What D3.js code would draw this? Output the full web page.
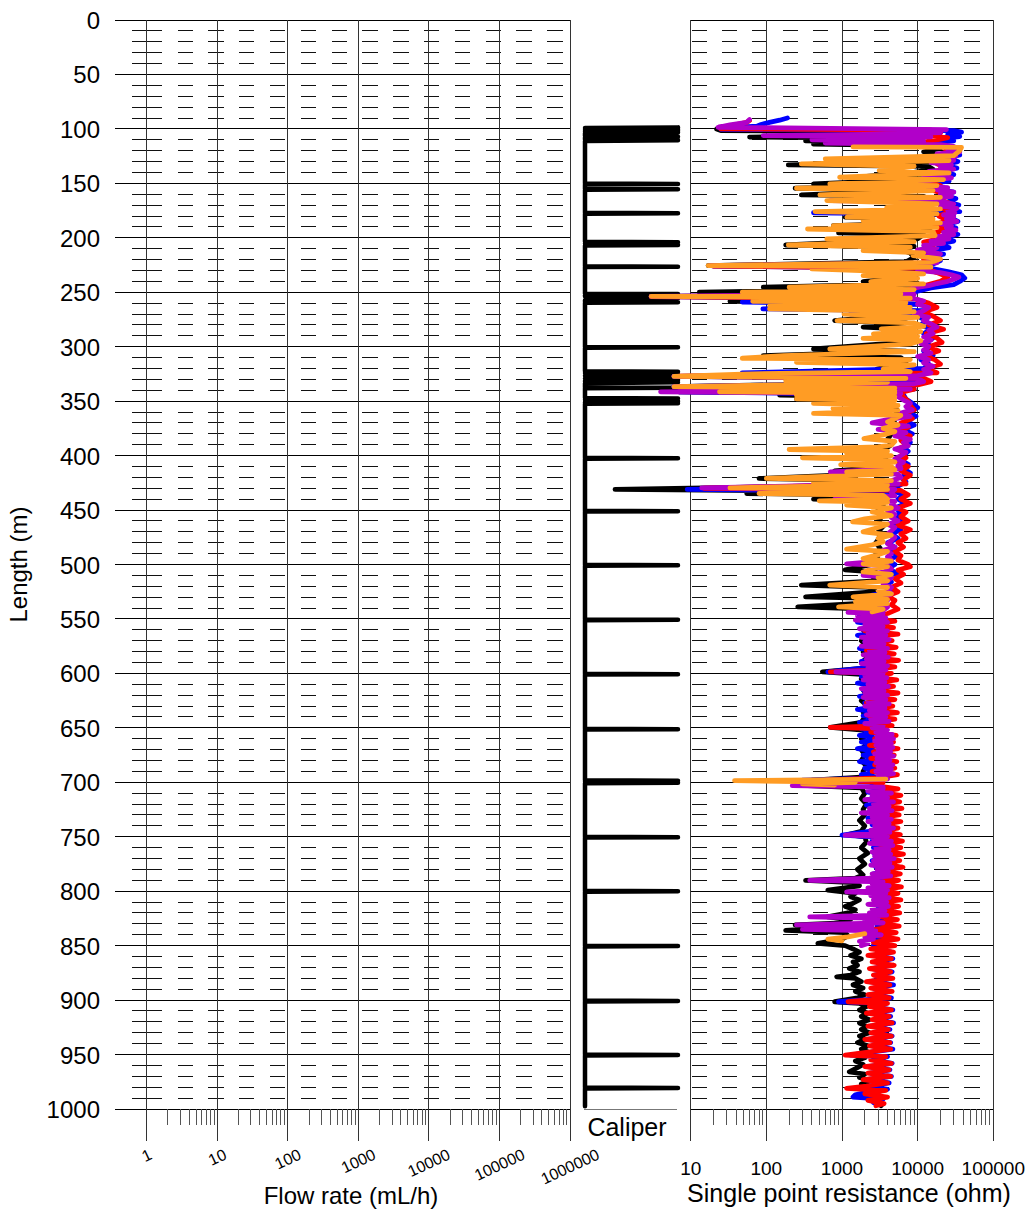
<!DOCTYPE html>
<html>
<head>
<meta charset="utf-8">
<script src="https://cdn.jsdelivr.net/npm/d3@7"></script>
<style>
body { margin: 0; background: #fff; }
svg { font-family: "Liberation Sans", Arial, sans-serif; }
</style>
</head>
<body>
<svg id="chart" width="1033" height="1224"></svg>
<script>
'use strict';

// tick labels
let depthTicks = [0, 50, 100, 150, 200, 250, 300, 350, 400, 450, 500, 550, 600, 650, 700, 750, 800, 850, 900, 950, 1000];
let flowTicks = [1, 10, 100, 1000, 10000, 100000, 1000000];
let resTicks = [10, 100, 1000, 10000, 100000];

// caliper trace [depth m, diameter mm]
let caliper = [
    [98.6, 86], [99.2, 76], [100.2, 86], [101, 76], [101.8, 86], [102.6, 76], [103.4, 86], [104, 76],
    [106.6, 76], [107.3, 86], [108, 76], [109.8, 76], [110.5, 86], [111.2, 76],
    [150.2, 76], [150.6, 86], [151, 76], [155.1, 76], [155.5, 86], [155.9, 76],
    [177.1, 76], [177.5, 86], [177.9, 76], [203.6, 76], [204, 86], [205.2, 76], [206.5, 86], [207, 76],
    [226.1, 76], [226.5, 86], [226.9, 76],
    [251.3, 76], [251.7, 86], [252.6, 76], [253.6, 76], [255.4, 86], [256.6, 79.3], [257.4, 76], [258.6, 76], [259.2, 86], [259.6, 76],
    [300.2, 76], [300.6, 86], [301, 76],
    [322.6, 76], [323, 86], [324.2, 76], [325.5, 86], [326.7, 76], [328, 86], [329.2, 76], [330.5, 86],
    [331.6, 76], [332.7, 86], [333.6, 76], [337.4, 76], [337.8, 86], [338.2, 76],
    [347.2, 76], [347.6, 86], [348.8, 76], [350, 86], [351.1, 76], [352, 86], [352.5, 76],
    [402, 76], [402.4, 86], [402.8, 76], [450.6, 76], [451, 86], [451.4, 76],
    [500.3, 76], [500.7, 86], [501.1, 76], [550.4, 76], [550.8, 86], [551.2, 76],
    [600.3, 76], [600.7, 86], [601.1, 76], [650.8, 76], [651.2, 86], [651.6, 76],
    [698.2, 76], [698.6, 86], [699.5, 76], [700.4, 86], [700.8, 76],
    [750, 76], [750.4, 86], [750.8, 76], [799.6, 76], [800, 86], [800.4, 76],
    [850, 76], [850.4, 86], [850.8, 76], [900.4, 76], [900.8, 86], [901.2, 76],
    [950, 76], [950.4, 86], [950.8, 76], [980.3, 76], [980.7, 86], [981.1, 76], [997.5, 76]
];

// single point resistance runs [depth m, ohm]
let blackRes = [
    [100, 22], [101.5, 25], [102.5, 12000], [105, 8000], [107.5, 60], [109, 10000], [111, 330], [112.5, 9000],
    [114, 420], [115.5, 15000], [118, 20000], [121, 12000], [124, 18000], [127, 10000], [129, 1500], [130, 15000],
    [133.1, 195], [134.5, 14000], [137, 16000], [140, 9000], [144.4, 1600], [146, 14000], [150.5, 420], [152, 12000],
    [154.5, 240], [156, 13000], [160.6, 290], [162, 12000], [166, 15000], [170, 10000], [174, 14000], [177, 12000],
    [181.1, 1100], [183, 13000], [186, 12000], [188.8, 770], [190.5, 15000], [194, 11000], [195.5, 900], [197, 12000],
    [201, 10000], [206.6, 180], [208, 9000], [211, 6000], [214, 8000], [218, 9000], [222, 7000], [225.5, 17],
    [227, 8000], [231, 6000], [235, 9000], [240.2, 1900], [242, 10000], [245.4, 91], [247, 8000], [250, 13],
    [251.5, 6000], [253.7, 3], [255.5, 7000], [258.3, 33], [260, 6000], [263, 7500], [267, 7000], [271, 5000],
    [276, 800], [278, 7000], [282, 1900], [284, 8000], [288, 7500], [292, 8000], [296, 6500], [302.1, 420],
    [304, 7000], [308.2, 91], [310, 6000], [314, 7000], [320.5, 2900], [322, 6500], [326, 6000], [327.2, 6],
    [329, 6000], [333, 5000], [336.7, 6], [338, 4000], [341.4, 7], [343, 4500], [344.5, 150], [346, 4000],
    [348, 250], [350, 4500], [355, 5000], [360, 5500], [365, 4500], [370, 5000], [375, 4000], [380, 4500],
    [385, 4000], [390, 4500], [395, 3500], [400, 4000], [405, 3500], [410, 4000], [414, 800], [416, 3500],
    [421, 80], [423, 3500], [427, 3000], [431, 1], [433, 3000], [434.8, 55], [436.5, 3000], [440, 420],
    [442, 3000], [446, 3500], [450, 3000], [455, 3500], [460, 3000], [465, 3500], [470, 3000], [475, 3200],
    [480, 2800], [485, 3200], [490, 2800], [495, 3000], [500, 2500], [505, 1100], [507, 2800], [510, 2500],
    [515, 2800], [519, 290], [521, 2500], [525, 2800], [529.7, 330], [531, 2700], [535, 2500], [538.9, 260],
    [541, 2400], [545, 2200], [550, 2000], [555, 2300], [560, 1900], [565, 2200], [570, 1800], [575, 2100],
    [580, 1900], [585, 2200], [590, 1800], [595, 2100], [598.6, 550], [601, 2000], [605, 1800], [610, 2200],
    [615, 1900], [620, 2100], [625, 1800], [630, 2200], [635, 1900], [640, 2000], [645, 1800], [649.5, 700],
    [652, 1900], [656, 2200], [660, 1800], [665, 2100], [670, 1800], [675, 2000], [680, 1800], [685, 2100],
    [690, 1900], [695, 2000], [698, 400], [700, 1000], [703, 350], [705, 1800], [710, 2000], [715, 1800],
    [720, 2100], [725, 1900], [730, 2000], [735, 1700], [740, 2000], [745, 1800], [748, 1200], [750, 2000],
    [755, 2100], [760, 1800], [765, 2200], [770, 1700], [775, 2000], [780, 1600], [785, 1900], [788, 1500],
    [790, 330], [792, 1400], [795, 1700], [799, 650], [802, 1500], [805, 1300], [808, 1700], [811, 1400],
    [814, 1100], [817, 1500], [820, 1200], [823.6, 640], [826, 1300], [829, 1000], [831, 240], [833, 900],
    [836, 180], [838, 1100], [841, 1200], [844, 1000], [848, 480], [850, 1100], [853, 1400], [856, 1700],
    [859, 1300], [862, 1800], [865, 1400], [868, 1600], [871, 1250], [874, 1700], [877, 1300], [878.6, 850],
    [880, 1500], [883, 1800], [886, 1400], [889, 1900], [892, 1500], [895, 2000], [898, 1600], [901.5, 800],
    [903, 1700], [906, 2100], [909, 1700], [912, 2200], [915, 1800], [918, 2300], [921, 1700], [924, 2100],
    [927, 1800], [930, 2300], [933, 1700], [936, 2000], [939, 1600], [942, 2200], [945, 1800], [948, 2300],
    [950.5, 1600], [953, 2000], [956, 1500], [959, 1900], [962, 1600], [966, 1250], [968, 2000], [971, 1700],
    [974, 2400], [977, 1800], [980, 2200], [983, 2600], [986, 2200], [989, 2800], [992, 2600], [995, 3000], [997, 3300]
];

let blueRes = [
    [90, 190], [92, 150], [94, 110], [96, 85], [97.5, 75], [99, 30], [100.5, 25], [101.5, 30000], [103, 38000],
    [105, 25000], [107, 36000], [109, 20000], [111, 30000], [113, 15000], [115, 25000], [118, 34000], [121, 28000],
    [124, 36000], [127, 25000], [130, 34000], [133, 22000], [136, 33000], [139, 20000], [142, 30000], [145, 18000],
    [148, 26000], [151, 12000], [154, 1000], [155.5, 20000], [158, 30000], [161, 22000], [164, 32000], [167, 25000],
    [170, 35000], [173, 27000], [176, 36000], [177, 420], [178.5, 30000], [182, 28000], [185, 34000], [188, 24000],
    [191, 32000], [194, 26000], [197, 34000], [200, 22000], [203, 30000], [206, 18000], [209, 26000], [212, 15000],
    [215, 22000], [218, 14000], [221, 20000], [224, 16000], [226, 20], [228, 15000], [231, 25000], [234, 38000],
    [237, 42000], [240, 36000], [243, 30000], [246, 15000], [249, 10000], [252, 8000], [254, 3], [256, 9000],
    [259, 48], [261, 10000], [265.3, 90], [267, 12000], [270, 1300], [272, 10000], [276, 13000], [280, 11000],
    [284, 15000], [288, 12000], [292, 16000], [296, 13000], [300, 15000], [304, 12000], [308, 16000], [312, 11000],
    [316, 14000], [320, 12000], [324, 48], [326, 11000], [327.2, 6], [329, 10000], [333, 12000], [336.7, 6],
    [339, 9000], [341.4, 7], [344, 6500], [348, 7000], [352, 8500], [356, 10000], [360, 7500], [364, 9500],
    [368, 7000], [372, 9000], [376, 6500], [380, 8500], [384, 6000], [388, 8000], [392, 6500], [396, 7500],
    [400, 6500], [404, 6000], [408, 7500], [412, 6500], [416, 8000], [420, 6000], [424, 7000], [428, 5500],
    [431, 9], [433, 5000], [436, 6500], [440, 5500], [444, 7000], [448, 5000], [452, 6000], [456, 5000],
    [460, 6500], [464, 4500], [468, 6000], [472, 4500], [476, 5500], [480, 4000], [484, 5000], [488, 4500],
    [492, 5500], [496, 4000], [500, 5000], [504, 4000], [508, 5500], [512, 3000], [516, 4500], [520, 3500],
    [524, 5000], [528, 2500], [532, 4000], [536, 2000], [540, 3000], [544, 2500], [547, 1700], [550, 3500],
    [553, 1600], [556, 3000], [559, 1900], [562, 3500], [565, 1600], [568, 3200], [571, 2000], [574, 3800],
    [577, 1700], [580, 3300], [583, 2100], [586, 3600], [589, 1800], [592, 3100], [595, 2000], [598.6, 650],
    [600, 3000], [603, 1800], [606, 3500], [609, 1600], [612, 3200], [615, 1900], [618, 3600], [621, 1700],
    [624, 3000], [627, 2000], [630, 3400], [633, 1600], [636, 3100], [639, 1900], [642, 3500], [645, 1700],
    [648, 3000], [651, 1800], [654, 2900], [657, 1700], [660, 3200], [663, 1800], [666, 3000], [669, 1600],
    [672, 3300], [675, 1900], [678, 3100], [681, 1700], [684, 3400], [687, 2000], [690, 3200], [693, 1800],
    [696, 3000], [698, 300], [700, 2500], [703, 2500], [706, 4500], [709, 2200], [712, 4800], [715, 2400],
    [718, 4200], [721, 2100], [724, 4600], [727, 2300], [730, 4400], [733, 2200], [736, 4700], [739, 2500],
    [742, 4300], [745, 2300], [748.6, 1000], [751, 4000], [754, 2500], [757, 4500], [760, 2600], [763, 4400],
    [766, 2700], [769, 4800], [772, 2500], [775, 4300], [778, 2800], [781, 4600], [784, 2600], [787, 4200],
    [790, 2400], [793, 4500], [796, 2900], [799, 4100], [802, 3000], [805, 4400], [808, 3200], [811, 4000],
    [814, 3000], [817, 4300], [820, 2800], [823, 3900], [826, 2700], [829, 4100], [832, 2900], [835, 3800],
    [838, 2500], [841, 4000], [844, 2700], [847, 3600], [850, 2600], [853, 2800], [856, 4500], [859, 2600],
    [862, 4700], [865, 2900], [868, 4300], [871, 2500], [874, 4600], [877, 2700], [880, 4400], [883, 2300],
    [886, 4800], [889, 2600], [892, 4200], [895, 2400], [898, 4500], [901.5, 900], [903, 3800], [906, 2500],
    [909, 4700], [912, 2300], [915, 4400], [918, 2700], [921, 4800], [924, 2400], [927, 4300], [930, 2600],
    [933, 4600], [936, 2200], [939, 4400], [942, 2500], [945, 4700], [948, 2300], [950.5, 1300], [952, 4000],
    [955, 2600], [958, 4600], [961, 2200], [964, 4300], [967, 2400], [970, 4500], [973, 2100], [976, 4200],
    [979, 2300], [982, 4000], [985, 2000], [987, 1500], [989, 1400], [991, 3500], [994, 2600]
];

let redRes = [
    [92.3, 60], [94, 55], [96, 40], [98, 30], [100, 25], [101, 15000], [104, 20000], [106, 12000], [108, 25000],
    [110, 18000], [113, 10000], [116, 22000], [120, 25000], [124, 20000], [128, 26000], [132, 18000], [136, 24000],
    [140, 15000], [144, 22000], [148, 12000], [152, 20000], [156, 15000], [160, 24000], [164, 18000], [168, 26000],
    [172, 20000], [176, 27000], [180, 19000], [184, 25000], [188, 17000], [192, 24000], [196, 16000], [200, 22000],
    [204, 12000], [208, 16000], [212, 10000], [216, 15000], [220, 12000], [224, 14000], [226, 20], [228, 12000],
    [232, 18000], [236, 25000], [240, 20000], [244, 12000], [248, 7000], [252, 8000], [254, 3], [256, 9000],
    [260, 14000], [264, 18000], [268, 12000], [272, 16000], [276, 20000], [280, 14000], [284, 22000], [288, 13000],
    [292, 18000], [296, 21000], [300, 14000], [304, 19000], [308, 12000], [312, 17000], [316, 20000], [320, 13000],
    [324, 18000], [327, 7], [329, 12000], [332, 15000], [335, 10000], [337, 7], [339, 9000], [342, 6000],
    [346, 6500], [350, 7500], [354, 8000], [358, 9000], [362, 6500], [366, 8500], [370, 6000], [374, 7500],
    [378, 5500], [382, 8000], [386, 6000], [390, 7000], [394, 5500], [398, 6500], [402, 7000], [406, 5500],
    [410, 7500], [414, 6000], [418, 8000], [422, 6500], [426, 7000], [430, 15], [432, 6000], [436, 7500],
    [440, 6000], [444, 8000], [448, 5500], [452, 7000], [456, 6000], [460, 7500], [464, 5500], [468, 8000],
    [472, 6000], [476, 7000], [480, 5500], [484, 6500], [488, 5000], [492, 6000], [496, 5500], [500, 7500],
    [502, 8000], [505, 5500], [509, 6500], [513, 5000], [517, 6000], [521, 4500], [525, 5500], [529, 4000],
    [533, 5000], [537, 4500], [541, 5500], [545, 4000], [549, 2200], [552, 5000], [555, 2500], [558, 4800],
    [561, 2000], [564, 5500], [567, 2300], [570, 4600], [573, 2600], [576, 5200], [579, 2100], [582, 4900],
    [585, 2400], [588, 5600], [591, 2200], [594, 5000], [597, 2600], [598.6, 700], [600, 4500], [603, 2300],
    [606, 5300], [609, 2500], [612, 4800], [615, 2200], [618, 5500], [621, 2400], [624, 5000], [627, 2100],
    [630, 4700], [633, 2500], [636, 5400], [639, 2300], [642, 5000], [645, 2600], [648, 4600], [649.5, 700],
    [651, 3500], [654, 2400], [657, 5200], [660, 2700], [663, 4800], [666, 2300], [669, 5500], [672, 2600],
    [675, 4900], [678, 2400], [681, 5300], [684, 2700], [687, 5000], [690, 2500], [693, 5400], [696, 3000],
    [698, 600], [700, 3500], [703, 2800], [706, 5500], [709, 3000], [712, 6000], [715, 3500], [718, 5800],
    [721, 3000], [724, 6200], [727, 3300], [730, 5700], [733, 2900], [736, 6000], [739, 3400], [742, 5500],
    [745, 3100], [748, 5900], [751, 3600], [754, 6300], [757, 3200], [760, 6000], [763, 3500], [766, 6500],
    [769, 3300], [772, 5800], [775, 3600], [778, 6400], [781, 3100], [784, 5900], [787, 3400], [790, 5600],
    [793, 3000], [796, 6100], [799, 3300], [802, 5500], [805, 3000], [808, 6000], [811, 2800], [814, 5600],
    [817, 3200], [820, 5800], [823, 2900], [826, 5400], [829, 3100], [832, 5700], [835, 2700], [838, 5200],
    [841, 3000], [844, 5500], [847, 2600], [850, 5000], [853, 2400], [856, 4800], [859, 2200], [862, 4500],
    [865, 2500], [868, 4900], [871, 2300], [874, 4400], [877, 2600], [880, 4700], [883, 2100], [886, 4300],
    [889, 2400], [892, 4600], [895, 2200], [898, 4200], [901.5, 1200], [903, 4000], [906, 2300], [909, 4500],
    [912, 2100], [915, 4200], [918, 2500], [921, 4600], [924, 2200], [927, 4100], [930, 2400], [933, 4500],
    [936, 2000], [939, 4300], [942, 2300], [945, 4400], [948, 2100], [950.5, 1100], [952, 3800], [955, 2400],
    [958, 4500], [961, 2000], [964, 4200], [967, 2200], [970, 4400], [973, 1900], [976, 4000], [979, 2100],
    [981, 1150], [983, 3800], [986, 2000], [989, 4000], [992, 2200], [995, 3600], [997, 2800]
];

let purpleRes = [
    [91.4, 60], [93.9, 55], [96.3, 33], [98.5, 23], [100.6, 24000], [102, 8000], [103.5, 20000], [105, 2000],
    [106.1, 91], [107.2, 15000], [109, 3000], [110, 400], [111.5, 12000], [113, 600], [114.5, 20000], [116, 30000],
    [117, 30000], [119, 25000], [121, 36000], [123, 18000], [125, 32000], [127, 20000], [129, 30000], [131, 15000],
    [133, 28000], [135, 20000], [137, 30000], [139, 14000], [141, 26000], [143, 12000], [145, 28000], [147, 16000],
    [149, 10000], [151, 4000], [152.5, 12000], [154, 25000], [156, 18000], [158, 30000], [160, 20000], [162, 28000],
    [164, 15000], [165.8, 700], [167, 22000], [169, 30000], [171, 20000], [173, 33000], [175, 25000], [177, 31000],
    [179, 22000], [181, 30000], [183, 24000], [185, 33000], [187, 20000], [189, 28000], [191, 24000], [193, 32000],
    [195, 22000], [197, 30000], [199, 18000], [201, 26000], [203, 15000], [205, 22000], [207, 12000], [209, 18000],
    [211, 10000], [213, 16000], [215, 20000], [217, 12000], [219, 16000], [221, 14000], [223, 18000], [225.5, 18],
    [226.5, 12000], [228, 14000], [230, 10000], [232, 20000], [234, 28000], [236, 35000], [238, 30000], [240, 25000],
    [242, 18000], [244, 14000], [246, 9000], [248, 8000], [250, 6000], [252, 9000], [253.7, 3], [255, 8000],
    [258, 12000], [261, 10000], [264, 14000], [267, 12000], [270, 9000], [273, 14000], [276, 12000], [279, 15000],
    [282, 18000], [285, 14000], [288, 16000], [291, 12000], [294, 15000], [297, 11000], [300, 14000], [303, 12000],
    [306, 15000], [309, 10000], [312, 14000], [315, 12000], [318, 16000], [321, 12000], [324, 15000], [326.6, 10000],
    [327.2, 6], [329, 10000], [332, 12000], [334, 9000], [336.7, 6], [339, 8000], [341.4, 4], [343, 6000],
    [346, 5500], [349, 6500], [352, 8000], [355, 7000], [358, 8500], [361, 6000], [364, 8000], [367, 4000],
    [370, 2500], [373, 7500], [376, 3000], [379, 7000], [382, 5000], [385, 8000], [388, 6500], [391, 7500],
    [394, 5000], [397, 7000], [400, 6000], [403, 5000], [406, 6500], [409, 5500], [412, 6000], [415, 700],
    [417, 5500], [420, 6000], [423, 4500], [426, 5500], [429.6, 14], [431, 5000], [434, 4500], [437, 5000],
    [440, 800], [442, 5000], [445, 4500], [448, 5500], [451, 4000], [454, 5000], [457, 4500], [460, 5500],
    [463, 4000], [466, 5000], [469, 4500], [472, 4000], [475, 5000], [478, 4500], [481, 4000], [484, 5000],
    [487, 3500], [490, 4500], [493, 4000], [496, 4500], [499.4, 1150], [501, 4000], [504, 4500], [507, 3500],
    [510, 1900], [512, 4500], [515, 4000], [518, 3500], [521, 4500], [524, 4000], [527, 4500], [530, 3500],
    [533, 4000], [536, 3000], [539, 4000], [542, 3500], [544, 1200], [545, 3500], [547, 1600], [549, 3800],
    [551, 1500], [553, 4000], [555, 2000], [557, 3500], [559, 1700], [561, 4000], [563, 2200], [565, 3800],
    [567, 1800], [569, 4200], [571, 2000], [573, 3600], [575, 1800], [577, 4000], [579, 2300], [581, 3700],
    [583, 1900], [585, 4100], [587, 2100], [589, 3600], [591, 1800], [593, 4000], [595, 2200], [597, 3800],
    [598.6, 830], [600, 3500], [602, 2000], [604, 3900], [606, 1900], [608, 3700], [610, 2200], [612, 4100],
    [614, 1800], [616, 3600], [618, 2000], [620, 4000], [622, 1900], [624, 3800], [626, 2200], [628, 4200],
    [630, 2000], [632, 3700], [634, 2300], [636, 4000], [638, 2100], [640, 3800], [642, 2400], [644, 4200],
    [646, 2000], [648, 3500], [650, 2500], [652, 4000], [654, 2800], [656, 4600], [658, 2900], [660, 4800],
    [662, 2700], [664, 4500], [666, 2800], [668, 4700], [670, 3000], [672, 4400], [674, 2700], [676, 4800],
    [678, 2900], [680, 4300], [682, 2800], [684, 4700], [686, 3000], [688, 4500], [690, 2800], [692, 4800],
    [694, 3000], [697, 4000], [699, 900], [701, 500], [703, 220], [704.5, 3500], [706, 3500], [708, 2200],
    [710, 4500], [712, 2500], [714, 4000], [716, 2000], [718, 4800], [720, 2600], [722, 4200], [724, 2300],
    [726, 4600], [728, 1800], [730, 4000], [732, 2500], [734, 4500], [736, 2200], [738, 4200], [740, 2700],
    [742, 4800], [744, 2400], [746, 4300], [748.6, 1100], [750, 4000], [752, 2600], [754, 4500], [756, 2300],
    [758, 4700], [760, 2800], [762, 4200], [764, 2500], [766, 4400], [768, 2700], [770, 4900], [772, 2600],
    [774, 4300], [776, 2400], [778, 4600], [780, 2900], [782, 4100], [784, 2500], [786, 4400], [788, 2300],
    [790, 375], [791.5, 3500], [793, 2500], [795, 4200], [797, 2200], [799, 4000], [800.6, 1150], [802, 3800],
    [804, 2400], [806, 4200], [808, 2600], [810, 3900], [812, 2200], [814, 4100], [816, 2500], [818, 3700],
    [820, 2300], [822, 3900], [823.6, 375], [825, 3000], [827, 2000], [829, 3500], [831, 250], [833, 2500],
    [835, 300], [836.5, 2800], [838, 1900], [840, 3300], [842, 2000], [844, 2600], [846, 1700], [848, 2200], [850, 1800]
];

let orangeRes = [
    [116.5, 1400], [117, 38000], [119.9, 36000], [124.5, 30000], [127.6, 600], [129, 26000], [132.2, 290],
    [134.3, 9000], [138.3, 3100], [140.4, 26000], [144.4, 930], [146.5, 22000], [150.5, 690], [152, 18000],
    [154.5, 250], [156.6, 16000], [160.6, 510], [162.8, 20000], [165.8, 630], [168.9, 18000], [172, 3900],
    [173.5, 20000], [175.9, 440], [178, 18000], [181.1, 1160], [182.7, 16000], [184.2, 1900], [186.3, 20000],
    [188.8, 770], [190.4, 18000], [191.9, 350], [194.3, 16000], [198, 17000], [201, 630], [203.5, 9000],
    [206.6, 195], [208.7, 8000], [211.8, 1900], [213.9, 12000], [216.3, 8700], [219.4, 20000], [222.5, 15000],
    [225.5, 17], [227, 15000], [228.6, 400], [231, 4000], [233.2, 12000], [234.7, 1900], [237.2, 10000],
    [240.2, 2400], [242.3, 12000], [245.4, 200], [247.5, 9000], [250, 48], [251.5, 6000], [253.7, 3],
    [255.5, 8000], [258.3, 66], [259.8, 7000], [262.3, 111], [263.8, 8000], [265.3, 110], [267.8, 9000],
    [270, 1060], [273, 10000], [276, 860], [278.2, 9000], [281.3, 12000], [283.7, 3300], [286.1, 11000],
    [288.3, 2600], [290.4, 10000], [292.3, 1900], [294.4, 11000], [297.5, 8000], [302.1, 690], [304.5, 9000],
    [308.2, 170], [310.6, 48], [311.8, 8000], [314.3, 250], [316.7, 9000], [320.5, 3500], [322.9, 8000],
    [325.1, 48], [327.2, 6], [329, 7000], [331.2, 180], [332.7, 4000], [334.2, 690], [336.7, 6], [338, 5000],
    [339.5, 150], [340.5, 5000], [341.4, 24], [342.5, 5000], [344.5, 250], [346, 5000], [348, 250], [349.5, 5000],
    [352, 420], [354, 5500], [356.7, 760], [358.5, 5500], [361.3, 420], [363, 6000], [366, 5000], [369, 4000],
    [372, 5500], [375, 3500], [378, 5000], [381, 3500], [384.3, 1950], [387, 5000], [390.4, 4500], [392, 3000],
    [394.4, 200], [396, 4000], [398, 1150], [400, 4500], [402, 300], [404, 4000], [406, 5000], [408.2, 960],
    [410, 4500], [413, 5000], [415, 1150], [417, 4500], [421, 100], [423, 4500], [425, 420], [427, 4000],
    [429.6, 33], [431, 4000], [434.8, 80], [436.5, 3500], [440, 4000], [441.5, 500], [443, 4000], [445.5, 1150],
    [448, 4500], [451.7, 2500], [455, 4500], [458, 2000], [460.8, 1380], [463, 4000], [466, 3000], [470, 1900],
    [473, 4500], [476, 3000], [479.2, 3500], [482, 2500], [485.9, 1150], [488, 4000], [491, 3000], [494.5, 1900],
    [497, 4500], [499.4, 1900], [502, 4000], [504, 2500], [506.8, 1900], [509, 4500], [512, 3000], [515, 4000],
    [519, 688], [521, 4000], [524, 3000], [527, 4500], [529.7, 1400], [532, 4000], [534, 1500], [536, 4000],
    [538.9, 900], [541, 3500], [543.5, 2500],
    null,
    [697, 3800], [698.5, 38], [700, 1500], [701.5, 300], [702.5, 800],
    null,
    [839, 2000], [842, 1200], [844, 650], [845.5, 1000]
];

let runs = [
    {name: 'black', color: '#000000', values: blackRes},
    {name: 'blue', color: '#0000ff', values: blueRes},
    {name: 'red', color: '#ff0000', values: redRes},
    {name: 'purple', color: '#b100c9', values: purpleRes},
    {name: 'orange', color: '#ff9c24', values: orangeRes}
];

let svg = d3.select('#chart');

let y = d3.scaleLinear().domain([0, 1000]).range([20, 1109]);
let xFlow = d3.scaleLog().domain([1, 1000000]).range([146.7, 570]);
let xRes = d3.scaleLog().domain([10, 100000]).range([690.7, 993.3]);
let xCal = d3.scaleLinear().domain([76, 86]).range([585, 678]);

let flowLeft = 115;
let minorDepths = d3.range(10, 1000, 10).filter(function(d) { return d % 50 !== 0; });

// minor depth lines (dashed)
let grid = svg.append('g').attr('shape-rendering', 'crispEdges');
grid.selectAll('.mt').data(minorDepths).enter().append('line')
    .attr('x1', 131.7).attr('x2', xFlow(1))
    .attr('y1', function(d) { return y(d); }).attr('y2', function(d) { return y(d); })
    .attr('stroke', '#111');
grid.selectAll('.ml').data(minorDepths).enter().append('line')
    .attr('x1', xFlow(1)).attr('x2', xFlow(1000000))
    .attr('y1', function(d) { return y(d); }).attr('y2', function(d) { return y(d); })
    .attr('stroke', '#111').attr('stroke-dasharray', '15.4,15.4');
grid.selectAll('.mr').data(minorDepths).enter().append('line')
    .attr('x1', xRes(10) + 1).attr('x2', xRes(100000))
    .attr('y1', function(d) { return y(d); }).attr('y2', function(d) { return y(d); })
    .attr('stroke', '#111').attr('stroke-dasharray', '15.1,15.2');

// major depth lines
grid.selectAll('.jl').data(depthTicks).enter().append('line')
    .attr('x1', flowLeft).attr('x2', xFlow(1000000))
    .attr('y1', function(d) { return y(d); }).attr('y2', function(d) { return y(d); })
    .attr('stroke', '#000');
grid.selectAll('.jr').data(depthTicks).enter().append('line')
    .attr('x1', xRes(10)).attr('x2', xRes(100000))
    .attr('y1', function(d) { return y(d); }).attr('y2', function(d) { return y(d); })
    .attr('stroke', '#000');

// decade lines, running down as major ticks
grid.selectAll('.vf').data(flowTicks).enter().append('line')
    .attr('x1', function(d) { return xFlow(d); }).attr('x2', function(d) { return xFlow(d); })
    .attr('y1', y(0)).attr('y2', 1141).attr('stroke', '#333');
grid.selectAll('.vr').data(resTicks).enter().append('line')
    .attr('x1', function(d) { return xRes(d); }).attr('x2', function(d) { return xRes(d); })
    .attr('y1', y(0)).attr('y2', 1141).attr('stroke', '#333');

// minor log ticks below each panel
let flowMinor = xFlow.ticks().filter(function(d) { return flowTicks.indexOf(d) < 0; });
let resMinor = xRes.ticks().filter(function(d) { return resTicks.indexOf(d) < 0; });
grid.selectAll('.nf').data(flowMinor).enter().append('line')
    .attr('x1', function(d) { return xFlow(d); }).attr('x2', function(d) { return xFlow(d); })
    .attr('y1', 1109).attr('y2', 1125).attr('stroke', '#555');
grid.selectAll('.nr').data(resMinor).enter().append('line')
    .attr('x1', function(d) { return xRes(d); }).attr('x2', function(d) { return xRes(d); })
    .attr('y1', 1109).attr('y2', 1125).attr('stroke', '#555');

// caliper base line
grid.append('line').attr('x1', 584).attr('x2', 677).attr('y1', 1109).attr('y2', 1109).attr('stroke', '#777');

// caliper trace
let calLine = d3.line()
    .x(function(d) { return xCal(d[1]); })
    .y(function(d) { return y(d[0]); });
svg.append('path').datum(caliper)
    .attr('d', calLine)
    .attr('fill', 'none').attr('stroke', '#000').attr('stroke-width', 4.5)
    .attr('stroke-linejoin', 'round').attr('stroke-linecap', 'round');

// resistance runs
let resLine = d3.line()
    .defined(function(d) { return d !== null; })
    .x(function(d) { return xRes(d[1]); })
    .y(function(d) { return y(d[0]); });
svg.append('g').selectAll('path').data(runs).enter().append('path')
    .attr('d', function(d) { return resLine(d.values); })
    .attr('fill', 'none')
    .attr('stroke', function(d) { return d.color; })
    .attr('stroke-width', 4.8)
    .attr('stroke-linejoin', 'round').attr('stroke-linecap', 'round');

// depth labels
svg.append('g').selectAll('text').data(depthTicks).enter().append('text')
    .attr('x', 100).attr('y', function(d) { return y(d) + 9; })
    .attr('text-anchor', 'end').attr('font-size', 24).attr('fill', '#000')
    .text(function(d) { return d; });

svg.append('text')
    .attr('transform', 'translate(27,' + y(500) + ') rotate(-90)')
    .attr('text-anchor', 'middle').attr('font-size', 24)
    .text('Length (m)');

// flow rate labels, tilted
svg.append('g').selectAll('text').data(flowTicks).enter().append('text')
    .attr('text-anchor', 'middle').attr('font-size', 16).attr('dy', '0.35em')
    .text(function(d) { return d; })
    .attr('transform', function(d) {
        let len = this.getComputedTextLength();
        let a = 25 * Math.PI / 180;
        let h = len * Math.sin(a) + 12 * Math.cos(a);
        return 'translate(' + xFlow(d) + ',' + (1148 + h / 2) + ') rotate(-25)';
    });

svg.append('text').attr('x', 351).attr('y', 1204)
    .attr('text-anchor', 'middle').attr('font-size', 24)
    .text('Flow rate (mL/h)');

// resistance labels
svg.append('g').selectAll('text').data(resTicks).enter().append('text')
    .attr('x', function(d) { return xRes(d); }).attr('y', 1175)
    .attr('text-anchor', 'middle').attr('font-size', 19)
    .text(function(d) { return d; });

svg.append('text').attr('x', 849).attr('y', 1202)
    .attr('text-anchor', 'middle').attr('font-size', 25)
    .text('Single point resistance (ohm)');

svg.append('text').attr('x', 627).attr('y', 1136)
    .attr('text-anchor', 'middle').attr('font-size', 25)
    .text('Caliper');
</script>
</body>
</html>
